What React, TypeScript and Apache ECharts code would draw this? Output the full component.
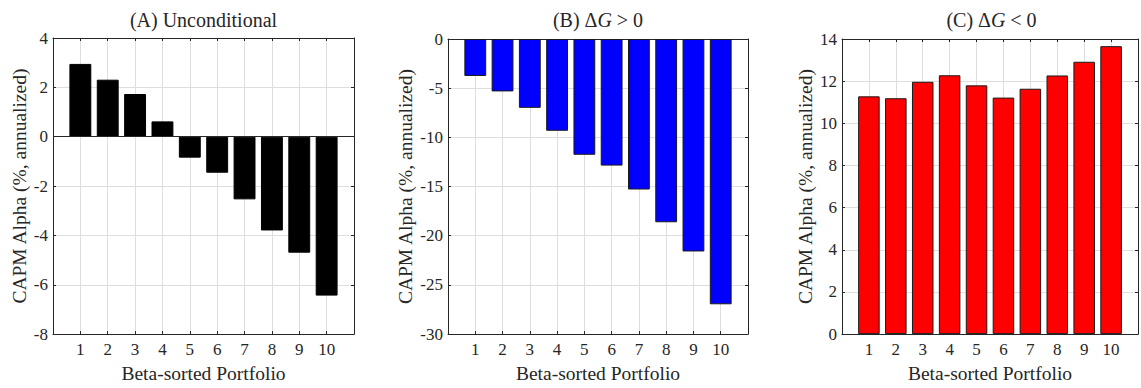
import React, { useEffect, useRef } from "react";
import * as echarts from "echarts";

// Beta-sorted portfolios 1..10 and their annualized CAPM alphas (%)
const portfolios = [1, 2, 3, 4, 5, 6, 7, 8, 9, 10];
const alphaUnconditional = [2.95, 2.31, 1.73, 0.62, -0.85, -1.46, -2.54, -3.8, -4.7, -6.44];
const alphaGrowthUp = [-3.76, -5.33, -7.0, -9.33, -11.77, -12.87, -15.3, -18.63, -21.6, -26.97];
const alphaGrowthDown = [11.28, 11.19, 11.97, 12.28, 11.8, 11.22, 11.64, 12.27, 12.92, 13.66];

// y-axis ranges: [min, max, step]
const yRangeA = [-8, 4, 2];
const yRangeB = [-30, 0, 5];
const yRangeC = [0, 14, 2];

const xLabel = "Beta-sorted Portfolio";
const yLabel = "CAPM Alpha (%, annualized)";
const titles = ["(A) Unconditional", "(B) Δ{g|G} > 0", "(C) Δ{g|G} < 0"];

const FONT = "Liberation Serif";
const INK = "#262626";
const GRID_LINE = "#dedede";

const serif = (size: number) => ({
  color: INK,
  fontFamily: FONT,
  fontSize: size,
  fontStyle: "normal",
  fontWeight: "normal",
});

export default function App() {
  const ref = useRef<HTMLDivElement>(null);

  useEffect(() => {
    if (!ref.current) return;
    const chart = echarts.init(ref.current, undefined, { renderer: "svg" });

    const panels = [
      { data: alphaUnconditional, range: yRangeA, color: "#000000", border: "#000000", baseline: true,
        grid: { left: 53, top: 38, width: 301, height: 301 }, nameGap: 24 },
      { data: alphaGrowthUp, range: yRangeB, color: "#0000ff", border: "#1a1a1a", baseline: false,
        grid: { left: 448, top: 39, width: 300, height: 300 }, nameGap: 33 },
      { data: alphaGrowthDown, range: yRangeC, color: "#ff0000", border: "#1a1a1a", baseline: false,
        grid: { left: 842, top: 39, width: 299, height: 299 }, nameGap: 27 },
    ];

    const grids: any[] = [];
    const xAxes: any[] = [];
    const yAxes: any[] = [];
    const series: any[] = [];
    const titleList: any[] = [];

    panels.forEach((p, i) => {
      grids.push({ ...p.grid, containLabel: false });
      const [yMin, yMax, yStep] = p.range;

      // bottom x-axis: portfolio numbers, vertical grid lines, axis title
      xAxes.push({
        type: "value", gridIndex: i, min: 0, max: 11, interval: 1, position: "bottom",
        axisLine: { onZero: false, lineStyle: { color: INK, width: 1 } },
        axisTick: { inside: true, length: 3, lineStyle: { color: INK } },
        axisLabel: {
          margin: 7, ...serif(17),
          formatter: (v: number) => (v >= 1 && v <= 10 ? String(v) : ""),
        },
        splitLine: { show: true, lineStyle: { color: GRID_LINE, width: 1 } },
        name: xLabel, nameLocation: "middle", nameGap: 26,
        nameTextStyle: serif(19.5),
      });
      // top edge of the box, with mirrored ticks
      xAxes.push({
        type: "value", gridIndex: i, min: 0, max: 11, interval: 1, position: "top",
        axisLine: { onZero: false, lineStyle: { color: INK, width: 1 } },
        axisTick: { inside: true, length: 3, lineStyle: { color: INK } },
        axisLabel: { show: false }, splitLine: { show: false },
      });
      // left y-axis: alpha values, horizontal grid lines, axis title
      yAxes.push({
        type: "value", gridIndex: i, min: yMin, max: yMax, interval: yStep, position: "left",
        axisLine: { show: true, onZero: false, lineStyle: { color: INK, width: 1 } },
        axisTick: { show: true, inside: true, length: 3, lineStyle: { color: INK } },
        axisLabel: { margin: 5, ...serif(17) },
        splitLine: { show: true, lineStyle: { color: GRID_LINE, width: 1 } },
        name: yLabel, nameLocation: "middle", nameGap: p.nameGap,
        nameTextStyle: serif(19.5),
      });
      // right edge of the box, with mirrored ticks
      yAxes.push({
        type: "value", gridIndex: i, min: yMin, max: yMax, interval: yStep, position: "right",
        axisLine: { show: true, onZero: false, lineStyle: { color: INK, width: 1 } },
        axisTick: { show: true, inside: true, length: 3, lineStyle: { color: INK } },
        axisLabel: { show: false }, splitLine: { show: false },
      });

      series.push({
        type: "bar",
        xAxisIndex: i * 2,
        yAxisIndex: i * 2,
        barWidth: "80%",
        data: portfolios.map((x, k) => [x, p.data[k]]),
        itemStyle: { color: p.color, borderColor: p.border, borderWidth: 1 },
        markLine: p.baseline
          ? {
              silent: true, symbol: "none", label: { show: false },
              lineStyle: { color: INK, width: 1, type: "solid" },
              data: [{ yAxis: 0 }],
            }
          : undefined,
      });

      titleList.push({
        text: titles[i],
        left: p.grid.left + p.grid.width / 2,
        top: 10,
        textAlign: "center",
        padding: 0,
        textStyle: {
          ...serif(20),
          rich: { g: { ...serif(20), fontStyle: "italic" } },
        },
      });
    });

    chart.setOption({
      animation: false,
      backgroundColor: "#ffffff",
      textStyle: { fontFamily: FONT },
      title: titleList,
      grid: grids,
      xAxis: xAxes,
      yAxis: yAxes,
      series,
    });

    return () => chart.dispose();
  }, []);

  return (
    <div
      ref={ref}
      style={{ position: "fixed", left: 0, top: 0, width: 1141, height: 388, background: "#fff" }}
    />
  );
}
